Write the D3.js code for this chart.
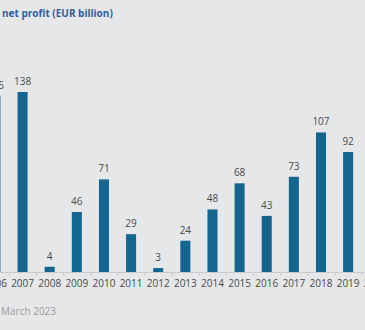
<!DOCTYPE html>
<html>
<head>
<meta charset="utf-8">
<script src="https://cdn.jsdelivr.net/npm/d3@7"></script>
<style>
  html, body { margin: 0; padding: 0; background: #e6e7e9; }
  svg { display: block; font-family: "Open Sans", "Noto Sans", sans-serif; }
</style>
</head>
<body>
<svg id="chart" width="365" height="330"></svg>
<script>
// values (2020 bar lies outside the crop)
const years = ['2006', '2007', '2008', '2009', '2010', '2011', '2012', '2013',
               '2014', '2015', '2016', '2017', '2018', '2019', '2020'];
const barYears = ['2006', '2007', '2008', '2009', '2010', '2011', '2012', '2013',
                  '2014', '2015', '2016', '2017', '2018', '2019'];
const profit = [135, 138, 4, 46, 71, 29, 3, 24, 48, 68, 43, 73, 107, 92];
const title = 'net profit (EUR billion)';
const note = 'March 2023';

const svg = d3.select('#chart');
const width = 365, height = 330;
const baseY = 272;

const step = 27.13;
const x = d3.scaleBand()
    .domain(years)
    .range([9 - step, 9 - step + step * years.length])
    .paddingInner(0.63)
    .paddingOuter(0.315);

const y = d3.scaleLinear()
    .domain([0, 138])
    .range([baseY, 92]);

svg.append('rect')
    .attr('width', width)
    .attr('height', height)
    .attr('fill', '#e6e7e9');

svg.append('text')
    .attr('x', 2)
    .attr('y', 17)
    .attr('fill', '#2f5f9c')
    .attr('font-size', 10)
    .attr('font-weight', 700)
    .text(title);

const data = barYears.map((d, i) => ({ year: d, value: profit[i] }));

svg.selectAll('.bar')
    .data(data)
    .enter()
    .append('rect')
    .attr('class', 'bar')
    .attr('x', d => x(d.year))
    .attr('y', d => y(d.value))
    .attr('width', x.bandwidth())
    .attr('height', d => baseY - y(d.value))
    .attr('fill', '#15668f');

svg.selectAll('.val')
    .data(data)
    .enter()
    .append('text')
    .attr('class', 'val')
    .attr('x', d => x(d.year) + x.bandwidth() / 2)
    .attr('y', d => y(d.value) - 7)
    .attr('text-anchor', 'middle')
    .attr('font-size', 10)
    .attr('fill', '#4a4a4a')
    .text(d => d.value);

// baseline and separator ticks
svg.append('line')
    .attr('x1', 0).attr('x2', width)
    .attr('y1', baseY + 0.5).attr('y2', baseY + 0.5)
    .attr('stroke', '#c9cacc');

svg.selectAll('.sep')
    .data(years)
    .enter()
    .append('line')
    .attr('class', 'sep')
    .attr('x1', d => x(d) + x.bandwidth() / 2 - x.step() / 2 + 0.5)
    .attr('x2', d => x(d) + x.bandwidth() / 2 - x.step() / 2 + 0.5)
    .attr('y1', baseY)
    .attr('y2', baseY + 4)
    .attr('stroke', '#c9cacc');

const axis = svg.append('g')
    .attr('transform', `translate(0,${baseY})`)
    .call(d3.axisBottom(x).tickSize(0).tickPadding(8));
axis.select('.domain').remove();
axis.selectAll('text')
    .attr('font-size', 10)
    .attr('font-family', '"Open Sans", "Noto Sans", sans-serif')
    .attr('fill', '#4a4a4a');

svg.append('text')
    .attr('x', 1)
    .attr('y', 315)
    .attr('font-size', 10)
    .attr('fill', '#9a9a9a')
    .text(note);
</script>
</body>
</html>
